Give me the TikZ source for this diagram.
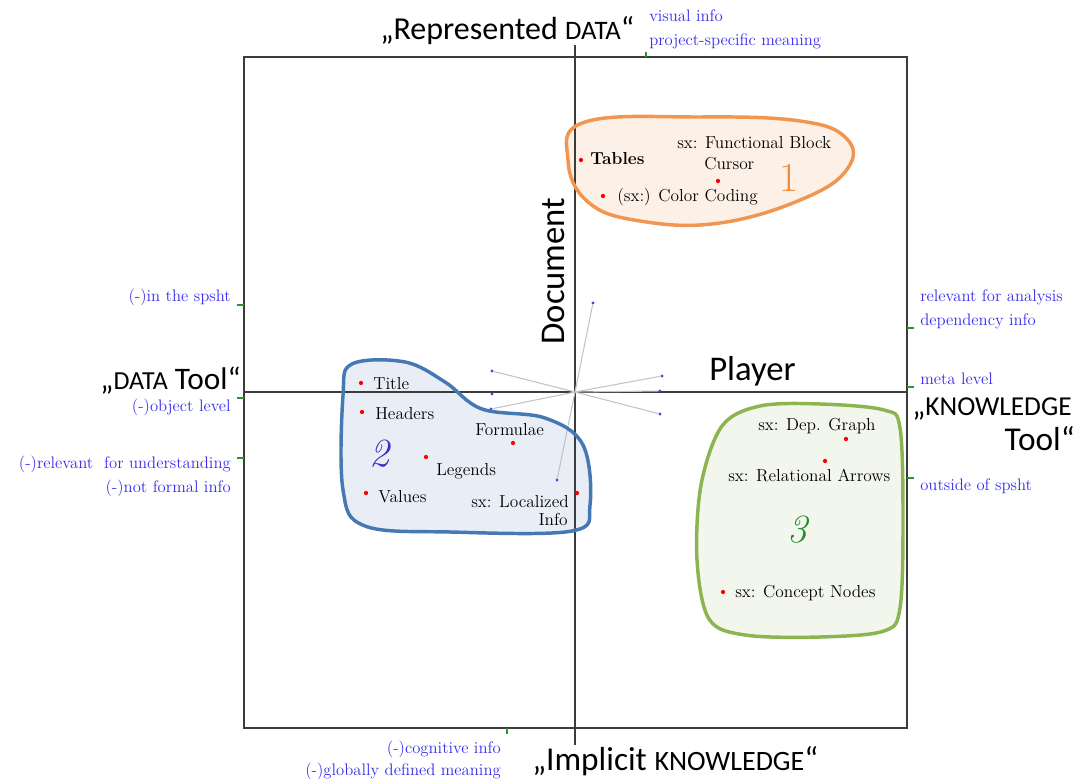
\documentclass[tikz,border=0pt]{standalone}
\usepackage{fontspec}
\newfontfamily\carlito{Carlito}
\definecolor{lblblue}{RGB}{55,45,235}
\definecolor{tickgreen}{RGB}{40,150,40}
\definecolor{axisgray}{RGB}{60,60,60}
\definecolor{stargray}{RGB}{195,195,195}
\definecolor{stardot}{RGB}{70,70,230}
\definecolor{orgline}{RGB}{240,150,80}
\definecolor{orgfill}{RGB}{253,240,230}
\definecolor{bluline}{RGB}{70,120,180}
\definecolor{blufill}{RGB}{233,238,246}
\definecolor{grnline}{RGB}{140,180,80}
\definecolor{grnfill}{RGB}{243,246,236}
\definecolor{numblue}{RGB}{50,50,200}
\definecolor{numgreen}{RGB}{30,140,40}
\definecolor{numorange}{RGB}{240,140,60}
\begin{document}
\begin{tikzpicture}[x=0.75pt,y=-0.75pt,
  bluetxt/.style={font=\fontsize{12.5}{14}\selectfont, text=lblblue, inner sep=0pt},
  clustertxt/.style={font=\fontsize{13}{15}\selectfont, inner sep=0pt},
  bigtxt/.style={font=\carlito\fontsize{23.5}{26}\selectfont, inner sep=0pt},
  reddot/.style={circle, fill=red, inner sep=0pt, minimum size=3.2pt},
  stardotn/.style={circle, fill=stardot, inner sep=0pt, minimum size=2.6pt},
  gtick/.style={draw=tickgreen, line width=0.9pt},
  axisline/.style={draw=axisgray, line width=1.1pt},
  starline/.style={draw=stargray, line width=0.8pt},
  blob/.style={line width=2.6pt}
]
\useasboundingbox (0,0) rectangle (1081,780);

% cluster shapes
\def\orgpath{plot[smooth cycle, tension=0.7] coordinates {(585,122) (700,117) (800,121) (846,138) (848,168) (805,198) (720,223) (640,221) (588,202) (568,160)}}
\def\blupath{plot[smooth cycle, tension=0.6] coordinates {(352,364) (405,362) (445,382) (482,409) (545,418) (583,445) (590,505) (572,531) (450,532) (365,526) (343,490) (343,395)}}
\def\grnpath{plot[smooth cycle, tension=0.55] coordinates {(760,406) (820,404) (884,410) (900,428) (903,520) (900,608) (884,631) (820,637) (745,635) (709,619) (697,560) (701,485) (722,426)}}
\fill[orgfill] \orgpath;
\fill[blufill] \blupath;
\fill[grnfill] \grnpath;

% frame and axes
\draw[axisline] (244,57) rectangle (907,728);
\coordinate (vtop) at (575,45);
\coordinate (vbot) at (575,745);
\coordinate (hl) at (244,392);
\coordinate (hr) at (907,392);
\draw[axisline] (vtop) -- (vbot);
\draw[axisline] (hl) -- (hr);

% green ticks
\draw[gtick] (646,52) -- (646,57);
\draw[gtick] (237,305) -- (244,305);
\draw[gtick] (237,398) -- (244,398);
\draw[gtick] (237,458) -- (244,458);
\draw[gtick] (907,328) -- (914,328);
\draw[gtick] (907,387) -- (914,387);
\draw[gtick] (907,478) -- (914,478);
\draw[gtick] (507,728) -- (507,734);

% star
\coordinate (c) at (575,392);
\node[stardotn] (s1) at (593,303) {};
\node[stardotn] (s2) at (492,371) {};
\node[stardotn] (s3) at (492,394) {};
\node[stardotn] (s4) at (491,409) {};
\node[stardotn] (s5) at (662,376) {};
\node[stardotn] (s6) at (660,391) {};
\node[stardotn] (s7) at (660,414) {};
\node[stardotn] (s8) at (557,480) {};
\foreach \s in {s1,s2,s4,s5,s6,s7,s8} \draw[starline] (c) -- (\s);

% cluster outlines
\draw[orgline, blob] \orgpath;
\draw[bluline, blob] \blupath;
\draw[grnline, blob] \grnpath;

% big axis labels
\node[bigtxt, font=\carlito\fontsize{24}{26}\selectfont, anchor=base west] (repdata) at (380,40) {„Represented {\fontsize{20}{22}\selectfont DATA}“};
\node[bigtxt, anchor=base east] (datatool) at (241,389) {„{\fontsize{19.5}{22}\selectfont DATA} Tool“};
\node[bigtxt, anchor=base west] (know1) at (912,415) {„{\fontsize{20.5}{22}\selectfont KNOWLEDGE}};
\node[bigtxt, font=\carlito\fontsize{25}{28}\selectfont, anchor=base east] (know2) at (1075,450) {Tool“};
\node[bigtxt, font=\carlito\fontsize{25}{28}\selectfont, anchor=base west] (implicit) at (532,770) {„Implicit {\fontsize{21}{22}\selectfont KNOWLEDGE}“};
\node[font=\carlito\fontsize{26}{30}\selectfont, inner sep=0pt, rotate=90] (document) at (553,271) {Document};
\node[font=\carlito\fontsize{26}{30}\selectfont, inner sep=0pt, anchor=base west] (player) at (709,381) {Player};

% blue side labels
\node[bluetxt, anchor=base west] (b1) at (649,22) {visual info};
\node[bluetxt, anchor=base west] (b2) at (649,46) {project-specific meaning};
\node[bluetxt, anchor=base east] (b3) at (231,302) {(-)in the spsht};
\node[bluetxt, anchor=base east] (b4) at (231,411) {(-)object level};
\node[bluetxt, anchor=base east] (b5) at (231,468) {(-)relevant\ \ for understanding};
\node[bluetxt, anchor=base east] (b6) at (231,492) {(-)not formal info};
\node[bluetxt, anchor=base west] (b7) at (920,302) {relevant for analysis};
\node[bluetxt, anchor=base west] (b8) at (920,326) {dependency info};
\node[bluetxt, anchor=base west] (b9) at (920,384) {meta level};
\node[bluetxt, anchor=base west] (b10) at (920,490) {outside of spsht};
\node[bluetxt, anchor=base east] (b11) at (501,753) {(-)cognitive info};
\node[bluetxt, anchor=base east] (b12) at (501,775) {(-)globally defined meaning};

% cluster 1
\node[reddot] (d11) at (581,160) {};
\node[clustertxt, anchor=base west] (t11) at (590,165) {\bfseries Tables};
\node[clustertxt, anchor=base west] (t12) at (677,149) {sx: Functional Block};
\node[clustertxt, anchor=base west] (t13) at (704,170) {Cursor};
\node[reddot] (d12) at (718,181) {};
\node[reddot] (d13) at (603,196) {};
\node[clustertxt, anchor=base west] (t14) at (617,202) {(sx:) Color Coding};
\node[font=\fontsize{31}{34}\selectfont, text=numorange, inner sep=0pt, anchor=base] (n1) at (789,192) {1};

% cluster 2
\node[reddot] (d21) at (361,383) {};
\node[clustertxt, anchor=base west] (t21) at (373,389) {Title};
\node[reddot] (d22) at (362,412) {};
\node[clustertxt, anchor=base west] (t22) at (375,419) {Headers};
\node[clustertxt, anchor=base west] (t23) at (475,435) {Formulae};
\node[reddot] (d23) at (513,443) {};
\node[font=\itshape\fontsize{30}{34}\selectfont, text=numblue, inner sep=0pt, anchor=base] (n2) at (379,466) {2};
\node[reddot] (d24) at (426,457) {};
\node[clustertxt, anchor=base west] (t24) at (436,475) {Legends};
\node[reddot] (d25) at (366,493) {};
\node[clustertxt, anchor=base west] (t25) at (378,502) {Values};
\node[clustertxt, anchor=base east] (t26) at (569,507) {sx: Localized};
\node[clustertxt, anchor=base east] (t27) at (568,525) {Info};
\node[reddot] (d26) at (577,493) {};

% cluster 3
\node[clustertxt, anchor=base west] (t31) at (758,430) {sx: Dep. Graph};
\node[reddot] (d31) at (846,439) {};
\node[reddot] (d32) at (825,461) {};
\node[clustertxt, anchor=base west] (t32) at (728,481) {sx: Relational Arrows};
\node[font=\itshape\fontsize{30}{34}\selectfont, text=numgreen, inner sep=0pt, anchor=base] (n3) at (797,542) {3};
\node[reddot] (d33) at (723,592) {};
\node[clustertxt, anchor=base west] (t33) at (735,597) {sx: Concept Nodes};
\end{tikzpicture}
\end{document}
